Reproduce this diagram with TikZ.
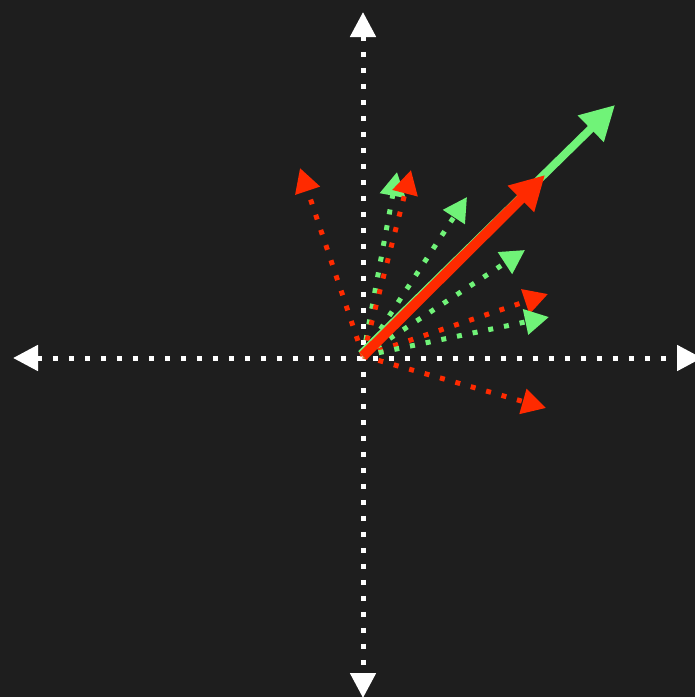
\documentclass[tikz,border=0pt]{standalone}
\usetikzlibrary{arrows.meta}
\definecolor{bgc}{HTML}{1E1E1E}
\definecolor{vgreen}{RGB}{112,243,120}
\definecolor{vred}{RGB}{255,42,0}
\tikzset{
  axisline/.style={white,line width=5pt,dash pattern=on 5pt off 11pt,{Triangle[length=25pt,width=25pt]}-{Triangle[length=25pt,width=25pt]}},
  dotvec/.style={line width=5pt,dash pattern=on 5pt off 11pt,-{Triangle[length=24pt,width=25pt]}},
  solidvec/.style={-{Triangle[length=34pt,width=35pt]}},
}
\begin{document}
\begin{tikzpicture}[x=1pt,y=-1pt]
\fill[bgc] (0,0) rectangle (695,697);
\useasboundingbox (0,0) rectangle (695,697);
\clip (0,0) rectangle (695,697);
% axes
\coordinate (L) at (13,358);
\coordinate (R) at (702,358);
\coordinate (T) at (363,12);
\coordinate (B) at (363,698);
\coordinate (O) at (363,356);
\coordinate (O2) at (361,354);
\draw[axisline] (L) -- (R);
\draw[axisline] (T) -- (B);
% endpoints
\coordinate (g1) at (397,172);
\coordinate (g2) at (467,197);
\coordinate (g3) at (525,250);
\coordinate (g4) at (549,317);
\coordinate (r1) at (300,168);
\coordinate (r2) at (411,170);
\coordinate (r3) at (548,294);
\coordinate (r4) at (546,408);
\coordinate (G) at (615,105);
\coordinate (Rs) at (545,175);
% dotted green
\draw[dotvec,vgreen] (O) -- (g1);
\draw[dotvec,vgreen] (O) -- (g2);
\draw[dotvec,vgreen] (O) -- (g3);
% dotted red
\draw[dotvec,vred] (O) -- (r1);
\draw[dotvec,vred] (O) -- (r2);
\draw[dotvec,vred] (O) -- (r3);
\draw[dotvec,vred] (O) -- (r4);
\draw[dotvec,vgreen] (O) -- (g4);
% solid
\draw[solidvec,vgreen,line width=8pt] (O2) -- (G);
\draw[solidvec,vred,line width=10pt] (O) -- (Rs);
\end{tikzpicture}
\end{document}
